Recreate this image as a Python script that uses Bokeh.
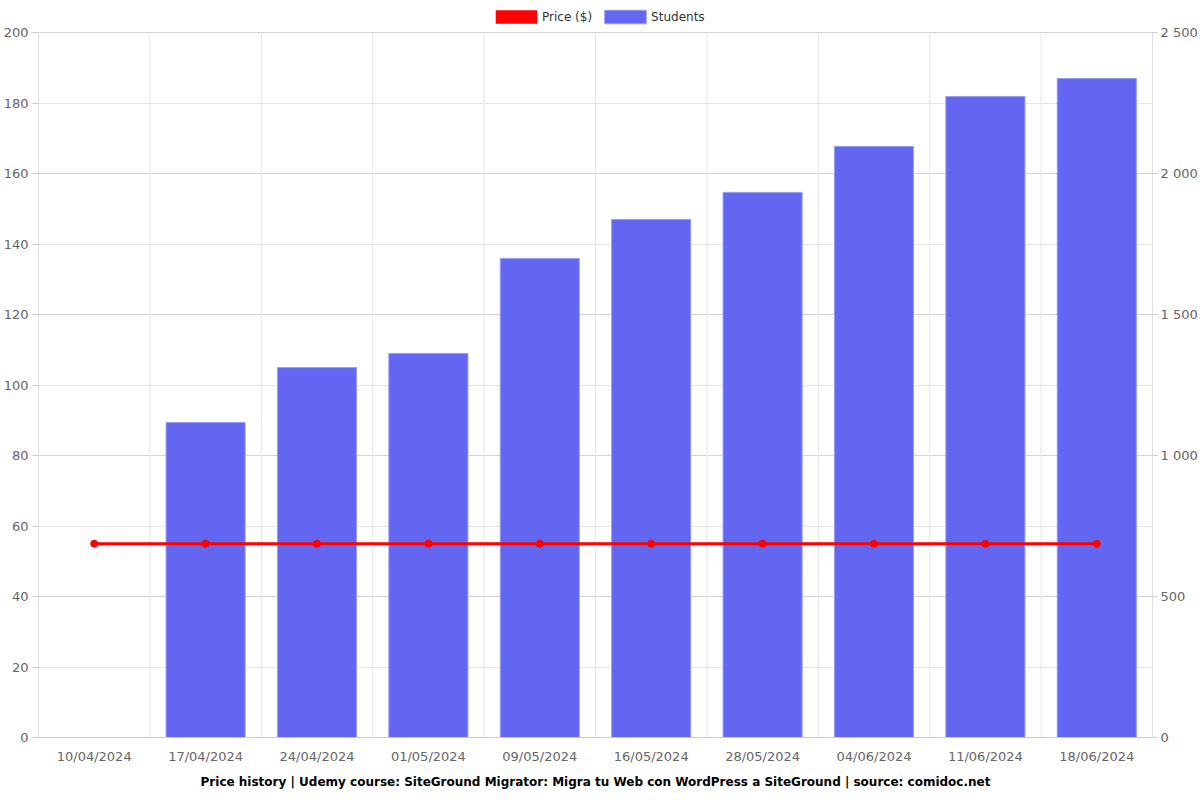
from bokeh.plotting import figure
from bokeh.models import (ColumnDataSource, Range1d, LinearAxis, FixedTicker, Legend, LegendItem,
                          Title, CustomJSTickFormatter, FactorRange, Grid)
from bokeh.embed import file_html
from bokeh.resources import INLINE

dates = ["10/04/2024", "17/04/2024", "24/04/2024", "01/05/2024", "09/05/2024",
         "16/05/2024", "28/05/2024", "04/06/2024", "11/06/2024", "18/06/2024"]
price = [55, 55, 55, 55, 55, 55, 55, 55, 55, 55]
students = [0, 1117, 1312, 1362, 1699, 1837, 1933, 2096, 2273, 2337]
price_ticks = list(range(0, 201, 20))
student_ticks = list(range(0, 2501, 500))

FONT = "DejaVu Sans"
TOP_PAD = 737 / 705  # frame extends above the chart area to host the legend
src = ColumnDataSource(dict(d=dates, price=price, students=students, zero=[0] * len(dates)))

# category boundary lines (grid)
bx = [(d, -0.5) for d in dates] + [(dates[-1], 0.5)]
bsrc = ColumnDataSource(dict(x=bx, y0=[0] * len(bx), y1=[price_ticks[-1]] * len(bx)))

p = figure(x_range=FactorRange(factors=dates, range_padding=0),
           y_range=Range1d(0, price_ticks[-1] * TOP_PAD),
           frame_width=1114, frame_height=737, output_backend="svg", toolbar_location=None,
           min_border_left=38, min_border_right=48, min_border_top=0, min_border_bottom=63)
p.outline_line_color = None
p.background_fill_color = "white"

p.extra_y_ranges = {"stu": Range1d(0, student_ticks[-1] * TOP_PAD)}

# grids
p.ygrid.ticker = FixedTicker(ticks=price_ticks)
p.ygrid.grid_line_color = "#e6e6e6"
p.xgrid.visible = False
rg = Grid(dimension=1, ticker=FixedTicker(ticks=student_ticks), y_range_name="stu",
          grid_line_color="#d4d4d4")
p.add_layout(rg, "center")
p.segment(x0="x", y0="y0", x1="x", y1="y1", source=bsrc, line_color="#e6e6e6", line_width=1)
# axis lines at both ends
esrc = ColumnDataSource(dict(x=[bx[0], bx[-1]], y0=[0, 0], y1=[price_ticks[-1]] * 2))
p.segment(x0="x", y0="y0", x1="x", y1="y1", source=esrc, line_color="#cccccc", line_width=1)

bars = p.vbar(x="d", top="students", width=0.71, source=src, y_range_name="stu",
              fill_color="#6366F1", line_color="#9a9cf5", line_width=1)
red_proxy = p.vbar(x="d", top="zero", width=0.5, source=src, fill_color="#FF0000", line_color=None)
line = p.line(x="d", y="price", source=src, line_color="#FF0000", line_width=3)
p.scatter(x="d", y="price", source=src, size=7, fill_color="#FF0000", line_color="#FF0000")

# left axis
la = p.yaxis[0]
la.ticker = FixedTicker(ticks=price_ticks)
la.axis_line_color = None
la.major_tick_line_color = "#cccccc"
la.major_tick_out = 6
la.major_tick_in = 0
la.minor_tick_line_color = None
la.major_label_text_font = FONT
la.major_label_text_font_size = "13px"
la.major_label_text_color = "#666666"
la.major_label_standoff = 4

# right axis
ra = LinearAxis(y_range_name="stu", ticker=FixedTicker(ticks=student_ticks))
ra.formatter = CustomJSTickFormatter(code="return String(tick).replace(/\\B(?=(\\d{3})+(?!\\d))/g, ' ');")
ra.axis_line_color = None
ra.major_tick_line_color = "#cccccc"
ra.major_tick_out = 5
ra.major_tick_in = 0
ra.minor_tick_line_color = None
ra.major_label_text_font = FONT
ra.major_label_text_font_size = "13px"
ra.major_label_text_color = "#666666"
ra.major_label_standoff = 3
p.add_layout(ra, "right")

# bottom axis
xa = p.xaxis[0]
xa.axis_line_color = "#cccccc"
xa.major_tick_line_color = None
xa.major_label_text_font = FONT
xa.major_label_text_font_size = "13px"
xa.major_label_text_color = "#666666"
xa.major_label_standoff = 5

legend = Legend(items=[LegendItem(label="Price ($)", renderers=[red_proxy]),
                       LegendItem(label="Students", renderers=[bars])],
                orientation="horizontal", location=(452, 712),
                glyph_width=52, glyph_height=17, label_text_font=FONT,
                label_text_font_size="12px", label_text_color="#333333",
                border_line_color=None, background_fill_alpha=0,
                padding=0, margin=0, spacing=7, label_standoff=0)
p.add_layout(legend, "center")

t = Title(text="Price history | Udemy course: SiteGround Migrator: Migra tu Web con WordPress a SiteGround | source: comidoc.net",
          align="center", text_font=FONT, text_font_size="12px", text_font_style="bold",
          text_color="#000000", standoff=12)
p.add_layout(t, "below")

open("out.html", "w").write(file_html(p, INLINE))
